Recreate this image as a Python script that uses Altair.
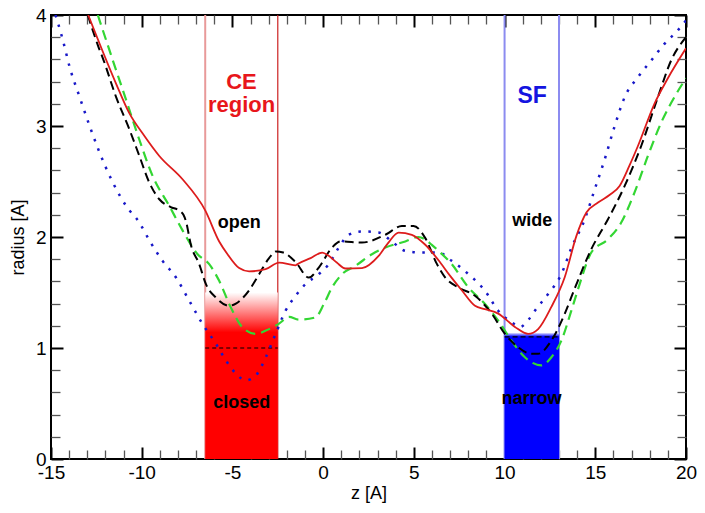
import altair as alt
import pandas as pd

# ---------------- data ----------------
red_z = [-12.95, -11.41, -10.7, -9.85, -9.03, -7.75, -6.5, -5.73, -5.27, -4.63, -4.08, -3.17, -2.43,
         -1.52, -1.43, -0.69, -0.05, 0.31, 0.75, 1.23, 2.14, 3.06, 3.6, 4.16, 4.89, 5.63, 6.36, 7.0,
         7.64, 8.37, 8.92, 9.65, 10.57, 11.3, 11.85, 12.58, 13.32, 13.96, 14.51, 15.15, 15.8, 16.34,
         16.9, 17.35, 18.26, 19.0, 20.0]
red_r = [4.0, 3.38, 3.12, 2.91, 2.73, 2.52, 2.24, 1.96, 1.845, 1.72, 1.69, 1.71, 1.77,
         1.745, 1.755, 1.81, 1.86, 1.83, 1.77, 1.716, 1.72, 1.83, 1.95, 2.04, 2.02, 1.93, 1.79, 1.65,
         1.52, 1.38, 1.35, 1.31, 1.19, 1.127, 1.17, 1.37, 1.64, 2.01, 2.22, 2.31, 2.38, 2.46,
         2.65, 2.82, 3.2, 3.43, 3.7]

black_z = [-12.97, -12.4, -12.14, -11.41, -10.68, -10.13, -9.58, -9.03, -8.4, -7.95, -7.7, -7.56, -7.29,
           -6.83, -6.46, -5.91, -5.18, -4.81, -4.08, -3.53, -2.98, -2.6, -2.2, -1.52, -0.79, -0.24,
           0.49, 0.96, 2.14, 3.43, 4.34, 4.98, 5.63, 6.26, 6.73, 7.46, 8.37, 9.29, 10.02, 10.75,
           11.48, 11.85, 12.58, 13.32, 13.9, 14.78, 15.7, 16.62, 17.53, 18.45, 19.18, 20.0]
black_r = [4.0, 3.72, 3.61, 3.26, 2.97, 2.73, 2.49, 2.34, 2.27, 2.24, 2.2, 2.14, 1.93,
           1.755, 1.575, 1.455, 1.38, 1.4, 1.52, 1.665, 1.81, 1.87, 1.86, 1.775, 1.635, 1.725,
           1.905, 1.96, 1.95, 2.02, 2.1, 2.1, 1.99, 1.76, 1.635, 1.545, 1.47, 1.31, 1.127, 1.007,
           0.948, 0.948, 1.067, 1.31, 1.55, 1.89, 2.16, 2.46, 2.82, 3.26, 3.59, 3.8]

green_z = [-12.42, -11.59, -10.86, -10.13, -9.4, -8.48, -7.75, -6.92, -6.28, -5.73, -5.09, -4.45, -3.71,
           -3.16, -2.43, -1.88, -1.34, -0.42, 0.04, 0.49, 1.04, 1.78, 2.69, 3.43, 4.53, 5.26, 5.99,
           6.36, 7.09, 8.01, 8.92, 9.65, 10.38, 11.12, 12.03, 12.58, 13.13, 13.68, 14.05, 14.78,
           15.7, 16.43, 17.16, 17.9, 18.63, 19.36, 20.0]
green_r = [4.0, 3.59, 3.235, 2.876, 2.55, 2.28, 2.06, 1.845, 1.755, 1.605, 1.366, 1.187, 1.127,
           1.157, 1.22, 1.28, 1.255, 1.276, 1.396, 1.545, 1.665, 1.74, 1.845, 1.905, 1.96, 2.0, 1.93,
           1.875, 1.755, 1.545, 1.396, 1.247, 1.067, 0.917, 0.843, 0.917, 1.067, 1.336, 1.53, 1.86,
           1.98, 2.13, 2.4, 2.73, 3.03, 3.26, 3.43]

blue_z = [-14.75, -14.34, -13.97, -13.42, -12.87, -12.32, -11.59, -10.86, -10.13, -9.58, -8.85, -8.11,
          -7.38, -6.65, -5.91, -5.36, -4.81, -4.26, -3.71, -3.16, -2.62, -2.07, -1.52, -0.97, -0.24,
          0.31, 0.86, 1.41, 2.14, 3.06, 3.79, 4.53, 5.44, 6.36, 7.09, 8.01, 8.92, 9.65, 10.4, 10.85,
          11.3, 11.67, 12.4, 13.13, 13.68, 14.42, 14.97, 15.52, 16.07, 16.62, 17.35, 18.08, 18.81,
          19.54, 20.0]
blue_r = [4.0, 3.77, 3.53, 3.26, 3.0, 2.76, 2.49, 2.28, 2.13, 1.97, 1.785, 1.635,
          1.426, 1.217, 1.038, 0.888, 0.769, 0.709, 0.753, 0.917, 1.127, 1.336, 1.47, 1.576, 1.665,
          1.755, 1.905, 2.02, 2.05, 2.04, 1.96, 1.875, 1.86, 1.86, 1.785, 1.665, 1.516, 1.336, 1.23, 1.19,
          1.25, 1.336, 1.486, 1.665, 1.9, 2.16, 2.43, 2.7, 3.0, 3.26, 3.44, 3.59, 3.74,
          3.86, 3.95]

ce_bounds = [-6.5, -2.5]      # CE region
sf_bounds = [10.0, 13.0]      # SF region
ce_closed = 1.0               # closed threshold
ce_fade = 1.5
sf_narrow = 1.1
sf_fade = 1.14

region_titles = ["CE", "region"]
region_title_z = [-4.5, -4.5]
region_title_r = [3.33, 3.124]
sf_title = ["SF"]
sf_title_z = [11.52]
sf_title_r = [3.205]
state_labels = ["open", "closed", "wide", "narrow"]
state_z = [-4.63, -4.49, 11.52, 11.49]
state_r = [2.078, 0.463, 2.099, 0.493]

x_major = [-15, -10, -5, 0, 5, 10, 15, 20]
x_minor = [v for v in range(-15, 21) if v % 5 != 0]
y_major = [0, 1, 2, 3, 4]
y_minor = [round(0.2 * i, 1) for i in range(21) if i % 5 != 0]

# ---------------- chart ----------------
FONT = "Liberation Sans"
xscale = alt.Scale(domain=[-15, 20], nice=False, zero=False)
yscale = alt.Scale(domain=[0, 4], nice=False, zero=False)


def X(field="z", axis=None):
    return alt.X(f"{field}:Q", scale=xscale, axis=axis)


def Y(field="r", axis=None):
    return alt.Y(f"{field}:Q", scale=yscale, axis=axis)


def tick_axis(orient, values, size, width, color, **kw):
    return alt.Axis(orient=orient, values=values, offset=-size, tickSize=size, tickWidth=width,
                    tickColor=color, domain=False, grid=False, **kw)


lab = dict(labelFont=FONT, labelFontSize=19, labelColor="black", labelExpr="'' + datum.value",
           labelFlush=False, labelOverlap=False,
           titleFont=FONT, titleFontSize=18, titleFontWeight="normal", titleColor="black")

ax_bottom_major = tick_axis("bottom", x_major, 12, 2, "black", labels=True, labelPadding=4,
                            title="z [A]", titlePadding=2, **lab)
ax_bottom_minor = tick_axis("bottom", x_minor, 9, 1.3, "#555555", labels=False, title=None)
ax_top_major = tick_axis("top", x_major, 12, 2, "black", labels=False, title=None)
ax_top_minor = tick_axis("top", x_minor, 9, 1.3, "#555555", labels=False, title=None)
ax_left_major = tick_axis("left", y_major, 12, 2, "black", labels=True, labelPadding=5,
                          title="radius [A]", titlePadding=8, **lab)
ax_left_minor = tick_axis("left", y_minor, 9, 1.3, "#555555", labels=False, title=None)
ax_right_major = tick_axis("right", y_major, 12, 2, "black", labels=False, title=None)
ax_right_minor = tick_axis("right", y_minor, 9, 1.3, "#555555", labels=False, title=None)

bounds_df = pd.DataFrame({"z": ce_bounds + sf_bounds, "name": ["ce0", "ce1", "sf0", "sf1"]})

rule_ce_left = alt.Chart(bounds_df[bounds_df.name == "ce0"]).mark_rule(
    color="#e89a9a", strokeWidth=2).encode(x=X())
rule_ce_right = alt.Chart(bounds_df[bounds_df.name == "ce1"]).mark_rule(
    color="#cc2222", strokeWidth=1.2).encode(x=X())
rule_sf = alt.Chart(bounds_df[bounds_df.name.str.startswith("sf")]).mark_rule(
    color="#8c8cf0", strokeWidth=2).encode(x=X())

ce_df = pd.DataFrame({"z": [ce_bounds[0]], "z2": [ce_bounds[1]], "r": [0.0], "r1": [ce_closed],
                      "r2": [ce_fade]})
sf_df = pd.DataFrame({"z": [sf_bounds[0]], "z2": [sf_bounds[1]], "r": [0.0], "r1": [sf_narrow],
                      "r2": [sf_fade]})


def grad(color, stop):
    return alt.LinearGradient(gradient="linear", x1=0, x2=0, y1=0, y2=1,
                              stops=[alt.GradientStop(offset=0, color="white"),
                                     alt.GradientStop(offset=stop, color=color),
                                     alt.GradientStop(offset=1, color=color)])


ce_solid = alt.Chart(ce_df).mark_rect(color="#ff0000").encode(
    x=X("z"), x2="z2", y=Y("r"), y2="r1")
ce_grad = alt.Chart(ce_df).mark_rect(color=grad("#ff0000", 0.72)).encode(
    x=X("z"), x2="z2", y=Y("r1"), y2="r2")
sf_solid = alt.Chart(sf_df).mark_rect(color="#0000ff").encode(
    x=X("z"), x2="z2", y=Y("r"), y2="r1")
sf_grad = alt.Chart(sf_df).mark_rect(color=grad("#0000ff", 0.95)).encode(
    x=X("z"), x2="z2", y=Y("r1"), y2="r2")

ce_thr = alt.Chart(ce_df).mark_rule(color="black", strokeWidth=1, strokeDash=[4, 3]).encode(
    x=X("z"), x2="z2", y=Y("r1"))
sf_thr = alt.Chart(sf_df).mark_rule(color="black", strokeWidth=1.2, strokeDash=[5, 3]).encode(
    x=X("z"), x2="z2", y=Y("r1"))

red_df = pd.DataFrame({"z": red_z, "r": red_r})
black_df = pd.DataFrame({"z": black_z, "r": black_r})
green_df = pd.DataFrame({"z": green_z, "r": green_r})
blue_df = pd.DataFrame({"z": blue_z, "r": blue_r})

green_line = alt.Chart(green_df).mark_line(
    color="#33d633", strokeWidth=2.2, strokeDash=[10, 6], interpolate="monotone", clip=True
).encode(x=X(axis=ax_top_major), y=Y(axis=ax_right_major), order="z:Q")
blue_line = alt.Chart(blue_df).mark_line(
    color="#1818c8", strokeWidth=2.5, strokeDash=[2.5, 7.5], interpolate="monotone", clip=True
).encode(x=X(axis=ax_top_minor), y=Y(axis=ax_right_minor), order="z:Q")
black_line = alt.Chart(black_df).mark_line(
    color="black", strokeWidth=2, strokeDash=[9, 5], interpolate="monotone", clip=True
).encode(x=X(axis=ax_bottom_minor), y=Y(axis=ax_left_minor), order="z:Q")
red_line = alt.Chart(red_df).mark_line(
    color="#dd1c1c", strokeWidth=1.8, interpolate="monotone", clip=True
).encode(x=X(axis=ax_bottom_major), y=Y(axis=ax_left_major), order="z:Q")

rt_df = pd.DataFrame({"z": region_title_z, "r": region_title_r, "t": region_titles})
sf_df_t = pd.DataFrame({"z": sf_title_z, "r": sf_title_r, "t": sf_title})
st_df = pd.DataFrame({"z": state_z, "r": state_r, "t": state_labels})

ce_text = alt.Chart(rt_df).mark_text(
    font=FONT, fontSize=22, fontWeight="bold", color="#e8161b", align="center",
    baseline="alphabetic").encode(x=X(), y=Y(), text="t:N")
sf_text = alt.Chart(sf_df_t).mark_text(
    font=FONT, fontSize=23, fontWeight="bold", color="#1414e0", align="center",
    baseline="alphabetic").encode(x=X(), y=Y(), text="t:N")
state_text = alt.Chart(st_df).mark_text(
    font=FONT, fontSize=18, fontWeight="bold", color="black", align="center",
    baseline="alphabetic").encode(x=X(), y=Y(), text="t:N")

chart = alt.layer(
    rule_ce_left, rule_ce_right, rule_sf,
    ce_solid, ce_grad, sf_solid, sf_grad,
    ce_thr, sf_thr,
    blue_line, green_line, black_line, red_line,
    ce_text, sf_text, state_text,
).resolve_axis(
    x="independent", y="independent"
).properties(
    width=635, height=444,
    autosize=alt.AutoSizeParams(type="none"),
    padding={"left": 43, "top": 7, "right": 11, "bottom": 46},
    background="white",
).configure_view(
    stroke="black", strokeWidth=2
)

chart.save("out.html", embed_options={"renderer": "svg", "actions": False})
